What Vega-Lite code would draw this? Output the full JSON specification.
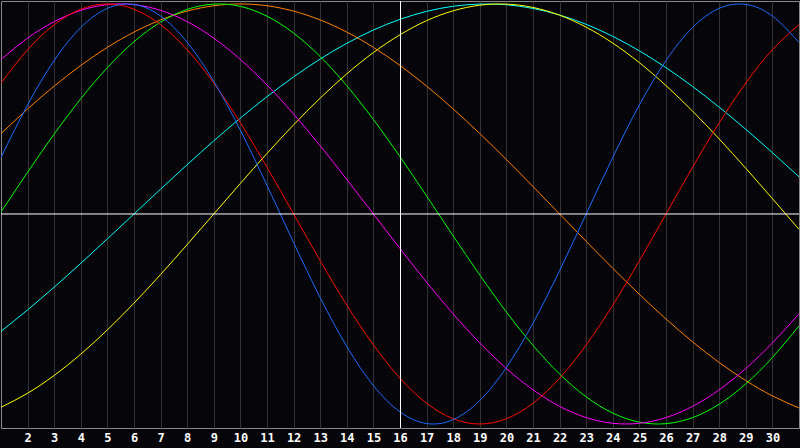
{
  "$schema": "https://vega.github.io/schema/vega-lite/v6.json",
  "width": 800,
  "height": 448,
  "autosize": {"type": "fit", "contains": "padding"},
  "padding": 0,
  "background": "#060509",
  "config": {
    "view": {"stroke": "#8a8a8a", "strokeWidth": 1, "fill": "#060509"},
    "font": "DejaVu Sans Mono",
    "axisX": {
      "title": null,
      "grid": true,
      "gridColor": "#333333",
      "gridWidth": 1,
      "gridOpacity": 1,
      "domain": false,
      "ticks": false,
      "labelColor": "#ffffff",
      "labelFont": "DejaVu Sans Mono",
      "labelFontWeight": "bold",
      "labelFontSize": 12,
      "labelPadding": 4,
      "labelFlush": false,
      "labelOverlap": false,
      "labelBound": false,
      "minExtent": 20,
      "maxExtent": 20
    }
  },
  "datasets": {
    "cycles": [
      {"day": 1, "Physical": 0.2698, "Emotional": 0.6235, "Intellectual": 0.0095, "Intuitive": 0.7357, "Aesthetic": -0.9204, "Awareness": 0.3827, "Spiritual": -0.5586},
      {"day": 2, "Physical": 0.5196, "Emotional": 0.7818, "Intellectual": 0.1986, "Intuitive": 0.8372, "Aesthetic": -0.8533, "Awareness": 0.5, "Spiritual": -0.4566},
      {"day": 3, "Physical": 0.7308, "Emotional": 0.901, "Intellectual": 0.3805, "Intuitive": 0.9158, "Aesthetic": -0.7686, "Awareness": 0.6088, "Spiritual": -0.3482},
      {"day": 4, "Physical": 0.8879, "Emotional": 0.9749, "Intellectual": 0.5487, "Intuitive": 0.9694, "Aesthetic": -0.6673, "Awareness": 0.7071, "Spiritual": -0.2349},
      {"day": 5, "Physical": 0.9791, "Emotional": 1.0, "Intellectual": 0.697, "Intuitive": 0.9966, "Aesthetic": -0.5517, "Awareness": 0.7934, "Spiritual": -0.1183},
      {"day": 6, "Physical": 0.9977, "Emotional": 0.9749, "Intellectual": 0.82, "Intuitive": 0.9966, "Aesthetic": -0.4245, "Awareness": 0.866, "Spiritual": 0.0},
      {"day": 7, "Physical": 0.9423, "Emotional": 0.901, "Intellectual": 0.9135, "Intuitive": 0.9694, "Aesthetic": -0.2881, "Awareness": 0.9239, "Spiritual": 0.1183},
      {"day": 8, "Physical": 0.817, "Emotional": 0.7818, "Intellectual": 0.974, "Intuitive": 0.9158, "Aesthetic": -0.1456, "Awareness": 0.9659, "Spiritual": 0.2349},
      {"day": 9, "Physical": 0.6311, "Emotional": 0.6235, "Intellectual": 0.9993, "Intuitive": 0.8372, "Aesthetic": 0.0, "Awareness": 0.9914, "Spiritual": 0.3482},
      {"day": 10, "Physical": 0.3984, "Emotional": 0.4339, "Intellectual": 0.9884, "Intuitive": 0.7357, "Aesthetic": 0.1456, "Awareness": 1.0, "Spiritual": 0.4566},
      {"day": 11, "Physical": 0.1362, "Emotional": 0.2225, "Intellectual": 0.9418, "Intuitive": 0.6142, "Aesthetic": 0.2881, "Awareness": 0.9914, "Spiritual": 0.5586},
      {"day": 12, "Physical": -0.1362, "Emotional": 0.0, "Intellectual": 0.8611, "Intuitive": 0.4759, "Aesthetic": 0.4245, "Awareness": 0.9659, "Spiritual": 0.6527},
      {"day": 13, "Physical": -0.3984, "Emotional": -0.2225, "Intellectual": 0.7496, "Intuitive": 0.3247, "Aesthetic": 0.5517, "Awareness": 0.9239, "Spiritual": 0.738},
      {"day": 14, "Physical": -0.6311, "Emotional": -0.4339, "Intellectual": 0.6107, "Intuitive": 0.1646, "Aesthetic": 0.6673, "Awareness": 0.866, "Spiritual": 0.8126},
      {"day": 15, "Physical": -0.817, "Emotional": -0.6235, "Intellectual": 0.4498, "Intuitive": 0.0, "Aesthetic": 0.7686, "Awareness": 0.7934, "Spiritual": 0.8758},
      {"day": 16, "Physical": -0.9423, "Emotional": -0.7818, "Intellectual": 0.2726, "Intuitive": -0.1646, "Aesthetic": 0.8533, "Awareness": 0.7071, "Spiritual": 0.9267},
      {"day": 17, "Physical": -0.9977, "Emotional": -0.901, "Intellectual": 0.0856, "Intuitive": -0.3247, "Aesthetic": 0.9204, "Awareness": 0.6088, "Spiritual": 0.9647},
      {"day": 18, "Physical": -0.9791, "Emotional": -0.9749, "Intellectual": -0.1045, "Intuitive": -0.4759, "Aesthetic": 0.9675, "Awareness": 0.5, "Spiritual": 0.989},
      {"day": 19, "Physical": -0.8879, "Emotional": -1.0, "Intellectual": -0.2908, "Intuitive": -0.6142, "Aesthetic": 0.994, "Awareness": 0.3827, "Spiritual": 0.9996},
      {"day": 20, "Physical": -0.7308, "Emotional": -0.9749, "Intellectual": -0.4667, "Intuitive": -0.7357, "Aesthetic": 0.9993, "Awareness": 0.2588, "Spiritual": 0.9961},
      {"day": 21, "Physical": -0.5196, "Emotional": -0.901, "Intellectual": -0.6255, "Intuitive": -0.8372, "Aesthetic": 0.9834, "Awareness": 0.1305, "Spiritual": 0.9785},
      {"day": 22, "Physical": -0.2698, "Emotional": -0.7818, "Intellectual": -0.762, "Intuitive": -0.9158, "Aesthetic": 0.9465, "Awareness": 0.0, "Spiritual": 0.9473},
      {"day": 23, "Physical": 0.0, "Emotional": -0.6235, "Intellectual": -0.8708, "Intuitive": -0.9694, "Aesthetic": 0.8894, "Awareness": -0.1305, "Spiritual": 0.9028},
      {"day": 24, "Physical": 0.2698, "Emotional": -0.4339, "Intellectual": -0.9481, "Intuitive": -0.9966, "Aesthetic": 0.8135, "Awareness": -0.2588, "Spiritual": 0.8457},
      {"day": 25, "Physical": 0.5196, "Emotional": -0.2225, "Intellectual": -0.9911, "Intuitive": -0.9966, "Aesthetic": 0.7203, "Awareness": -0.3827, "Spiritual": 0.7766},
      {"day": 26, "Physical": 0.7308, "Emotional": 0.0, "Intellectual": -0.9984, "Intuitive": -0.9694, "Aesthetic": 0.6112, "Awareness": -0.5, "Spiritual": 0.6966},
      {"day": 27, "Physical": 0.8879, "Emotional": 0.2225, "Intellectual": -0.9695, "Intuitive": -0.9158, "Aesthetic": 0.4894, "Awareness": -0.6088, "Spiritual": 0.6069},
      {"day": 28, "Physical": 0.9791, "Emotional": 0.4339, "Intellectual": -0.9057, "Intuitive": -0.8372, "Aesthetic": 0.3572, "Awareness": -0.7071, "Spiritual": 0.5086},
      {"day": 29, "Physical": 0.9977, "Emotional": 0.6235, "Intellectual": -0.809, "Intuitive": -0.7357, "Aesthetic": 0.2175, "Awareness": -0.7934, "Spiritual": 0.403},
      {"day": 30, "Physical": 0.9423, "Emotional": 0.7818, "Intellectual": -0.6832, "Intuitive": -0.6142, "Aesthetic": 0.073, "Awareness": -0.866, "Spiritual": 0.292},
      {"day": 31, "Physical": 0.817, "Emotional": 0.901, "Intellectual": -0.5327, "Intuitive": -0.4759, "Aesthetic": -0.073, "Awareness": -0.9239, "Spiritual": 0.1769}
    ],
    "today": [{"day": 16}],
    "baseline": [{"value": 0}]
  },
  "layer": [
    {
      "data": {"name": "cycles"},
      "transform": [
        {"fold": ["Spiritual", "Aesthetic", "Awareness", "Intellectual", "Intuitive", "Emotional", "Physical"], "as": ["cycle", "value"]}
      ],
      "mark": {"type": "line", "strokeWidth": 1, "interpolate": "natural", "clip": true},
      "encoding": {
        "x": {
          "field": "day",
          "type": "quantitative",
          "scale": {"domain": [1, 31], "nice": false, "zero": false},
          "axis": {
            "values": [2, 3, 4, 5, 6, 7, 8, 9, 10, 11, 12, 13, 14, 15, 16, 17, 18, 19, 20, 21, 22, 23, 24, 25, 26, 27, 28, 29, 30]
          }
        },
        "y": {
          "field": "value",
          "type": "quantitative",
          "scale": {"domain": [-1.019, 1.014], "nice": false, "zero": false},
          "axis": null
        },
        "color": {
          "field": "cycle",
          "type": "nominal",
          "scale": {
            "domain": ["Physical", "Emotional", "Intellectual", "Intuitive", "Aesthetic", "Awareness", "Spiritual"],
            "range": ["#1a6cff", "#ff0000", "#00ff00", "#ff00ff", "#ffff00", "#ff8000", "#00ffff"]
          },
          "legend": null
        }
      }
    },
    {
      "data": {"name": "today"},
      "mark": {"type": "rule", "color": "#ffffff", "strokeWidth": 1, "xOffset": 0.5},
      "encoding": {
        "x": {
          "field": "day",
          "type": "quantitative",
          "axis": {
            "values": [2, 3, 4, 5, 6, 7, 8, 9, 10, 11, 12, 13, 14, 15, 16, 17, 18, 19, 20, 21, 22, 23, 24, 25, 26, 27, 28, 29, 30]
          }
        }
      }
    },
    {
      "data": {"name": "baseline"},
      "mark": {"type": "rule", "color": "#ffffff", "strokeWidth": 1},
      "encoding": {"y": {"field": "value", "type": "quantitative", "axis": null}}
    }
  ]
}
